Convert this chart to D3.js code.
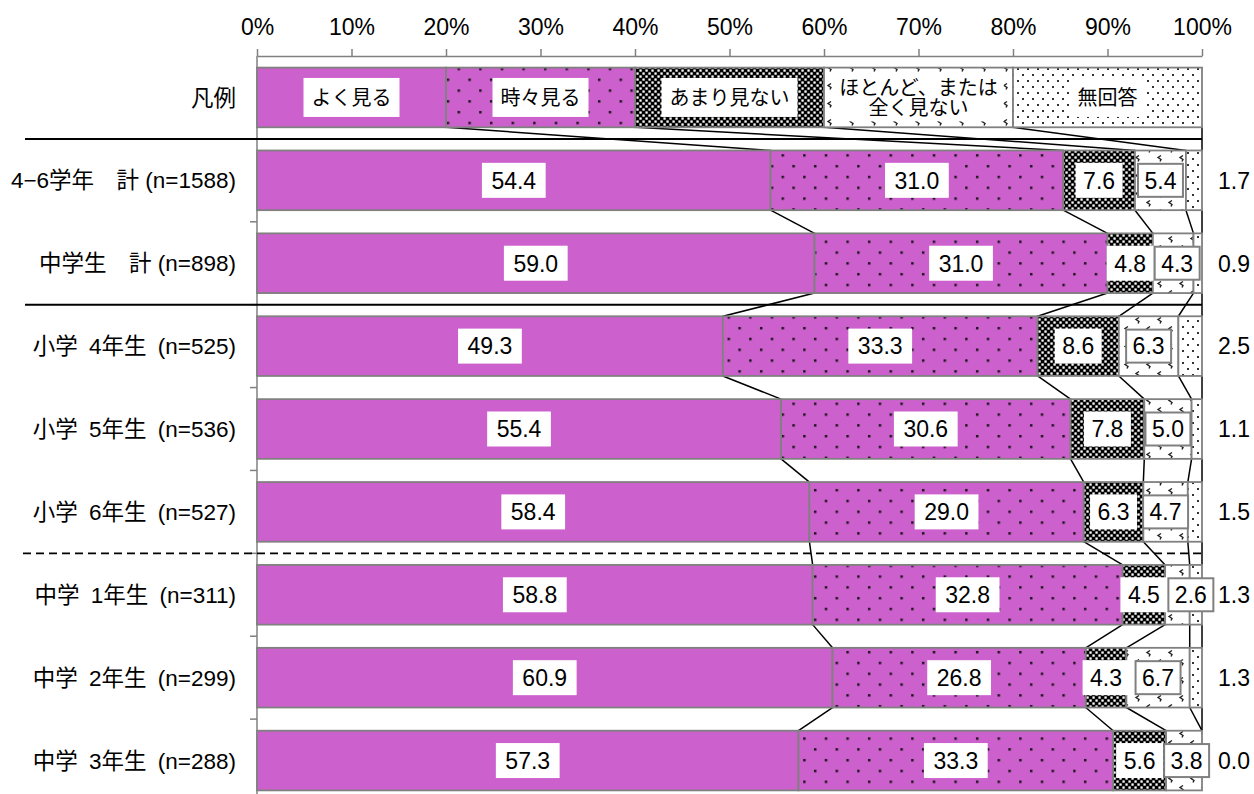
<!DOCTYPE html>
<html><head><meta charset="utf-8">
<script src="https://cdn.jsdelivr.net/npm/d3@7"></script>
<style>body{margin:0;background:#fff}</style>
</head><body>
<svg id="chart" width="1254" height="794"></svg>
<script>
// ---------- data ----------
const categories = ["凡例", "4−6学年　計 (n=1588)", "中学生　計 (n=898)", "小学\u20024年生\u2002(n=525)", "小学\u20025年生\u2002(n=536)", "小学\u20026年生\u2002(n=527)", "中学\u20021年生\u2002(n=311)", "中学\u20022年生\u2002(n=299)", "中学\u20023年生\u2002(n=288)"];
const seriesNames = ["よく見る", "時々見る", "あまり見ない", "ほとんど、または|全く見ない", "無回答"];
const legendShares = [20, 20, 20, 20, 20];
const yokuMiru     = [54.4, 59.0, 49.3, 55.4, 58.4, 58.8, 60.9, 57.3];
const tokidokiMiru = [31.0, 31.0, 33.3, 30.6, 29.0, 32.8, 26.8, 33.3];
const amariMinai   = [7.6, 4.8, 8.6, 7.8, 6.3, 4.5, 4.3, 5.6];
const hotondoMinai = [5.4, 4.3, 6.3, 5.0, 4.7, 2.6, 6.7, 3.8];
const muKaitou     = [1.7, 0.9, 2.5, 1.1, 1.5, 1.3, 1.3, 0.0];
const xTicks = [0, 10, 20, 30, 40, 50, 60, 70, 80, 90, 100];
const solidSeparatorsBefore = [categories[1], categories[3]];
const dashedSeparatorsBefore = [categories[6]];

// ---------- setup ----------
const svg = d3.select("#chart");
const FONT = "'Liberation Sans', Arial, 'Noto Sans CJK JP', sans-serif";
const MAGENTA = "#CC60CC";
const GRAY = "#808080";

const x = d3.scaleLinear().domain([0, 100]).range([257, 1202]);
const y = d3.scaleBand().domain(categories).range([56, 802]).paddingInner(0.28).paddingOuter(0.14);
const bw = y.bandwidth();
const gapHalf = y.step() * y.paddingInner() / 2;

// patterns
const defs = svg.append("defs");
const p1 = defs.append("pattern").attr("id", "pTokidoki").attr("patternUnits", "userSpaceOnUse").attr("width", 21.6).attr("height", 21.6);
p1.append("rect").attr("width", 21.6).attr("height", 21.6).attr("fill", MAGENTA);
[[4, 3], [14.8, 13.8]].forEach(([a, b]) => p1.append("rect").attr("x", a).attr("y", b).attr("width", 2.4).attr("height", 2.4).attr("fill", "#111"));

const p2 = defs.append("pattern").attr("id", "pAmari").attr("patternUnits", "userSpaceOnUse").attr("width", 6).attr("height", 6);
p2.append("rect").attr("width", 6).attr("height", 6).attr("fill", "#000");
[[0.4, 0.4], [3.4, 3.4]].forEach(([a, b]) => p2.append("rect").attr("x", a).attr("y", b).attr("width", 2.3).attr("height", 2.3).attr("fill", "#fff"));

const p3 = defs.append("pattern").attr("id", "pHotondo").attr("patternUnits", "userSpaceOnUse").attr("width", 22).attr("height", 18);
p3.append("rect").attr("width", 22).attr("height", 18).attr("fill", "#fff");
[[3, 2.5], [14, 11.5]].forEach(([a, b]) => p3.append("path").attr("d", `M${a + 3},${b} l-3,2 l3,2 l-1,2`).attr("fill", "none").attr("stroke", "#222").attr("stroke-width", 1.4));

const p4 = defs.append("pattern").attr("id", "pMukaitou").attr("patternUnits", "userSpaceOnUse").attr("width", 10).attr("height", 12);
p4.append("rect").attr("width", 10).attr("height", 12).attr("fill", "#fff");
[[2, 2], [7, 8]].forEach(([a, b]) => p4.append("rect").attr("x", a).attr("y", b).attr("width", 2).attr("height", 2).attr("fill", "#333"));

const fills = [MAGENTA, "url(#pTokidoki)", "url(#pAmari)", "url(#pHotondo)", "url(#pMukaitou)"];

// rows
const dataRows = categories.slice(1).map((c, i) => ({
  cat: c,
  vals: [yokuMiru[i], tokidokiMiru[i], amariMinai[i], hotondoMinai[i], muKaitou[i]]
}));
const rows = [{ cat: categories[0], vals: legendShares, legend: true }].concat(dataRows);
rows.forEach(r => {
  const tot = d3.sum(r.vals);
  let c = 0;
  r.cum = [0];
  r.vals.forEach(v => { c += v; r.cum.push(c / tot * 100); });
});

// top axis
const ax = svg.append("g").attr("transform", "translate(0,56)")
  .call(d3.axisTop(x).tickValues(xTicks).tickFormat(d => d + "%").tickSize(7).tickSizeOuter(0).tickPadding(14));
ax.select(".domain").attr("stroke", GRAY).attr("stroke-width", 1.5);
ax.selectAll(".tick line").attr("stroke", GRAY).attr("stroke-width", 1.5);
ax.selectAll(".tick text").attr("font-family", FONT).attr("font-size", 23).attr("fill", "#000");

// left axis line and ticks
svg.append("line").attr("x1", x(0)).attr("x2", x(0)).attr("y1", 56).attr("y2", 794).attr("stroke", GRAY).attr("stroke-width", 1.5);
svg.selectAll(".ltick").data(categories.slice(1)).enter().append("line")
  .attr("x1", x(0) - 7).attr("x2", x(0))
  .attr("y1", d => y(d) - gapHalf).attr("y2", d => y(d) - gapHalf)
  .attr("stroke", GRAY).attr("stroke-width", 1.5);

// separators
svg.selectAll(".sepSolid").data(solidSeparatorsBefore).enter().append("line")
  .attr("x1", 25).attr("x2", x(100))
  .attr("y1", d => y(d) - gapHalf).attr("y2", d => y(d) - gapHalf)
  .attr("stroke", "#000").attr("stroke-width", 2);
svg.selectAll(".sepDash").data(dashedSeparatorsBefore).enter().append("line")
  .attr("x1", 23).attr("x2", x(100))
  .attr("y1", d => y(d) - gapHalf).attr("y2", d => y(d) - gapHalf)
  .attr("stroke", "#000").attr("stroke-width", 1.8).attr("stroke-dasharray", "8,5");

// series lines
for (let i = 0; i < rows.length - 1; i++) {
  const a = rows[i], b = rows[i + 1];
  for (let k = 1; k <= 5; k++) {
    svg.append("line")
      .attr("x1", x(a.cum[k])).attr("y1", y(a.cat) + bw)
      .attr("x2", x(b.cum[k])).attr("y2", y(b.cat))
      .attr("stroke", "#000").attr("stroke-width", 1.5);
  }
}

// bars
rows.forEach(r => {
  const g = svg.append("g");
  r.vals.forEach((v, k) => {
    g.append("rect")
      .attr("x", x(r.cum[k])).attr("y", y(r.cat))
      .attr("width", Math.max(0, x(r.cum[k + 1]) - x(r.cum[k])))
      .attr("height", bw)
      .attr("fill", fills[k]).attr("stroke", GRAY).attr("stroke-width", 1.8);
  });
});

// category labels
svg.selectAll(".cat").data(categories).enter().append("text")
  .attr("x", 236).attr("y", d => y(d) + bw / 2).attr("dy", "0.36em")
  .attr("text-anchor", "end").attr("font-family", FONT).attr("font-size", 22.5).attr("fill", "#000")
  .text(d => d);

// legend labels
const lg = rows[0];
seriesNames.forEach((name, k) => {
  const cx = x((lg.cum[k] + lg.cum[k + 1]) / 2);
  const cy = y(lg.cat) + bw / 2;
  const lines = name.split("|");
  const g = svg.append("g");
  const rect = g.append("rect").attr("fill", "#fff");
  const t = g.append("text").attr("font-family", FONT).attr("font-size", 20).attr("fill", "#000").attr("text-anchor", "middle");
  lines.forEach((ln, j) => {
    t.append("tspan").attr("x", cx).attr("y", cy + (j - (lines.length - 1) / 2) * 20).attr("dy", "0.36em").text(ln);
  });
  const bb = t.node().getBBox();
  const padX = lines.length > 1 ? 6 : 8, h = lines.length > 1 ? bb.height + 6 : 39;
  rect.attr("x", bb.x - padX).attr("y", cy - h / 2).attr("width", bb.width + 2 * padX).attr("height", h);
});

// value labels
dataRows.forEach((r, idx) => {
  const row = rows[idx + 1];
  const cy = y(r.cat) + bw / 2;
  let prevRight = -Infinity;
  for (let k = 0; k < 4; k++) {
    let cx = x((row.cum[k] + row.cum[k + 1]) / 2);
    const g = svg.append("g");
    const rect = g.append("rect").attr("fill", "#fff");
    const t = g.append("text").attr("font-family", FONT).attr("font-size", 23).attr("fill", "#000")
      .attr("text-anchor", "middle").attr("y", cy).attr("dy", "0.36em").text(r.vals[k].toFixed(1));
    const w = t.node().getComputedTextLength() + (r.vals[k] >= 10 ? 19 : 15);
    const h = 35;
    if (cx - w / 2 < prevRight) cx = prevRight + w / 2;
    t.attr("x", cx);
    rect.attr("x", cx - w / 2).attr("y", cy - h / 2).attr("width", w).attr("height", h);
    if (k === 3) rect.attr("stroke", GRAY).attr("stroke-width", 2).attr("x", cx - w / 2 + 1).attr("width", w - 2).attr("y", cy - h / 2 + 1).attr("height", h - 2);
    prevRight = cx + w / 2;
  }
  svg.append("text").attr("font-family", FONT).attr("font-size", 23).attr("fill", "#000")
    .attr("x", x(100) + 16).attr("y", cy).attr("dy", "0.36em").text(r.vals[4].toFixed(1));
});
</script>
</body></html>
